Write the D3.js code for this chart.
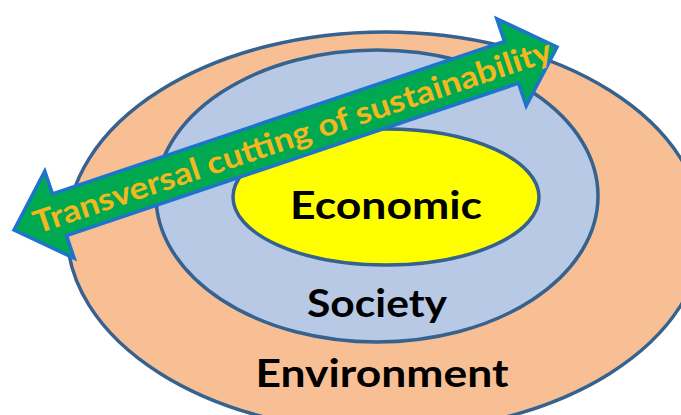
<!DOCTYPE html>
<html>
<head>
<meta charset="utf-8">
<script src="https://cdn.jsdelivr.net/npm/d3@7"></script>
<style>
  html, body { margin: 0; padding: 0; background: #fff; overflow: hidden; }
</style>
</head>
<body>
<div id="chart"></div>
<script>
const width = 681, height = 415;

// nested layers, outermost first
const layers = ["Environment", "Society", "Economic"];
const layerFill = ["#f8bf95", "#b7c9e5", "#ffff00"];
// ellipse centre / half axes in diagram units (0..681 x 0..415)
const layerCx = [385, 377, 386];
const layerCy = [232, 196, 197];
const layerRx = [318, 221, 153];
const layerRy = [200, 146, 68];
const labelY = [387, 317, 219];
const labelWidth = [253, 140, 192];

const arrowText = "Transversal cutting of sustainability";
const arrowFrom = [14, 230], arrowTo = [557, 47];

const x = d3.scaleLinear().domain([0, 681]).range([0, width]);
const y = d3.scaleLinear().domain([0, 415]).range([0, height]);

const svg = d3.select("#chart")
    .append("svg")
    .attr("width", width)
    .attr("height", height);

let data = layers.map((name, i) => ({
    name: name, fill: layerFill[i],
    cx: layerCx[i], cy: layerCy[i], rx: layerRx[i], ry: layerRy[i],
    ly: labelY[i], lw: labelWidth[i]
}));

svg.append("g")
    .selectAll("ellipse")
    .data(data)
    .enter().append("ellipse")
    .attr("cx", d => x(d.cx))
    .attr("cy", d => y(d.cy))
    .attr("rx", d => x(d.rx) - x(0))
    .attr("ry", d => y(d.ry) - y(0))
    .attr("fill", d => d.fill)
    .attr("stroke", "#36628f")
    .attr("stroke-width", 3.5);

// double headed arrow
let x0 = x(arrowFrom[0]), y0 = y(arrowFrom[1]);
let x1 = x(arrowTo[0]), y1 = y(arrowTo[1]);
let len = Math.hypot(x1 - x0, y1 - y0);
let angle = Math.atan2(y1 - y0, x1 - x0) * 180 / Math.PI;
let head = 48, headW = 46, shaftW = 22;
let L = len / 2;

let arrowPts = [
    [-L, 0], [-L + head, -headW], [-L + head, -shaftW], [L - head, -shaftW],
    [L - head, -headW], [L, 0], [L - head, headW], [L - head, shaftW],
    [-L + head, shaftW], [-L + head, headW]
];

let arrow = svg.append("g")
    .attr("transform", `translate(${(x0 + x1) / 2},${(y0 + y1) / 2}) rotate(${angle})`);

arrow.append("path")
    .attr("d", d3.line()(arrowPts) + "Z")
    .attr("fill", "#00a84f")
    .attr("stroke", "#1d74cc")
    .attr("stroke-width", 3.5)
    .attr("stroke-linejoin", "miter");

arrow.append("text")
    .attr("x", 7)
    .attr("y", 11)
    .attr("text-anchor", "middle")
    .attr("font-family", "Lato, 'Open Sans', sans-serif")
    .attr("font-weight", 700)
    .attr("font-size", 31)
    .attr("fill", "#f2b81e")
    .attr("textLength", 545)
    .attr("lengthAdjust", "spacingAndGlyphs")
    .text(arrowText);

svg.append("g")
    .selectAll("text")
    .data(data)
    .enter().append("text")
    .attr("x", d => x(d.cx + (d.name == "Environment" ? -3 : 0)))
    .attr("y", d => y(d.ly))
    .attr("text-anchor", "middle")
    .attr("font-family", "Lato, 'Open Sans', sans-serif")
    .attr("font-weight", 700)
    .attr("font-size", 39)
    .attr("fill", "#000")
    .attr("textLength", d => d.lw)
    .attr("lengthAdjust", "spacingAndGlyphs")
    .text(d => d.name);
</script>
</body>
</html>
